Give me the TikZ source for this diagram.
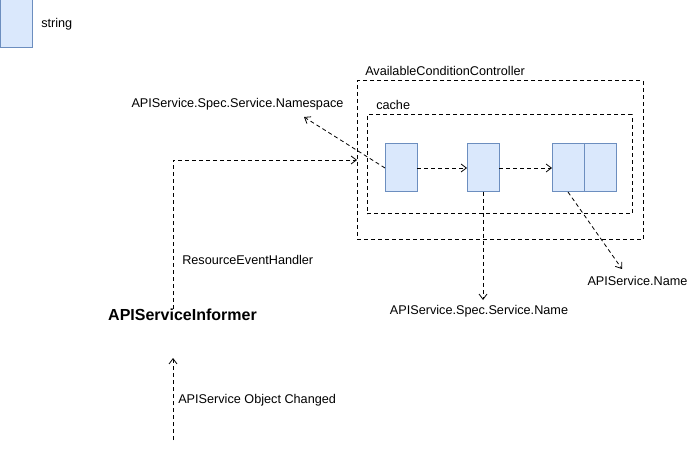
\documentclass[tikz,border=0pt]{standalone}
\usepackage{fontspec}
\setmainfont{Liberation Sans}
\usetikzlibrary{arrows.meta}
\definecolor{bfill}{HTML}{DAE8FC}
\definecolor{bdraw}{HTML}{6C8EBF}
\begin{document}
\begin{tikzpicture}[x=0.75pt,y=-0.75pt,
  strbox/.style={draw=bdraw,fill=bfill,line width=0.75pt,minimum width=24pt,minimum height=36pt,inner sep=0pt,outer sep=0pt},
  dbox/.style={draw,dash pattern=on 3pt off 2.25pt,line width=0.75pt,inner sep=0pt,outer sep=0pt},
  lbl/.style={font=\fontsize{9.5}{11}\selectfont,inner sep=0pt},
  conn/.style={draw,dash pattern=on 3pt off 2.25pt,line width=0.6pt,-{Straight Barb[length=4pt,width=6pt]}},
  ]
\useasboundingbox (0,0) rectangle (693,449);
% legend
\node[strbox] (leg) at (16,24) {};
\node[lbl,anchor=west] (legt) at (41,24) {string};
% containers
\node[dbox,minimum width=214.5pt,minimum height=119.25pt] (outer) at (500,160.5) {};
\node[lbl,anchor=west] (outert) at (365,71) {AvailableConditionController};
\node[dbox,minimum width=198.75pt,minimum height=74.25pt] (cache) at (499.5,164.5) {};
\node[lbl,anchor=west] (cachet) at (376,105) {cache};
% string boxes
\node[strbox] (b1) at (401,168) {};
\node[strbox] (b2) at (483,168) {};
\node[strbox] (b3) at (568,168) {};
\node[strbox] (b4) at (600,168) {};
% labels
\node[lbl] (ns) at (237.5,104) {APIService.Spec.Service.Namespace};
\node[lbl] (sn) at (479,311) {APIService.Spec.Service.Name};
\node[lbl] (an) at (637.5,281) {APIService.Name};
\node[font=\bfseries\fontsize{12}{14}\selectfont,inner sep=0pt] (inf) at (182.5,315) {APIServiceInformer};
\node[lbl,anchor=west] (reh) at (182,260) {ResourceEventHandler};
\node[lbl,anchor=west] (aoc) at (178,400) {APIService Object Changed};
\coordinate (corner) at (173,160);
\coordinate (src) at (173,440);
\coordinate (tip) at (173,358);
\coordinate (nsend) at (304,117);
\coordinate (snend) at (483,300);
\coordinate (anend) at (622,269);
% connectors
\draw[conn] (b1.east) -- (b2.west);
\draw[conn] (b2.east) -- (b3.west);
\draw[conn] (b1.west) -- (nsend);
\draw[conn] (b2.south) -- (snend);
\draw[conn] (b3.south) -- (anend);
\draw[conn] (inf.north -| corner) |- (outer.west |- corner);
\draw[conn] (src) -- (tip);
\end{tikzpicture}
\end{document}
